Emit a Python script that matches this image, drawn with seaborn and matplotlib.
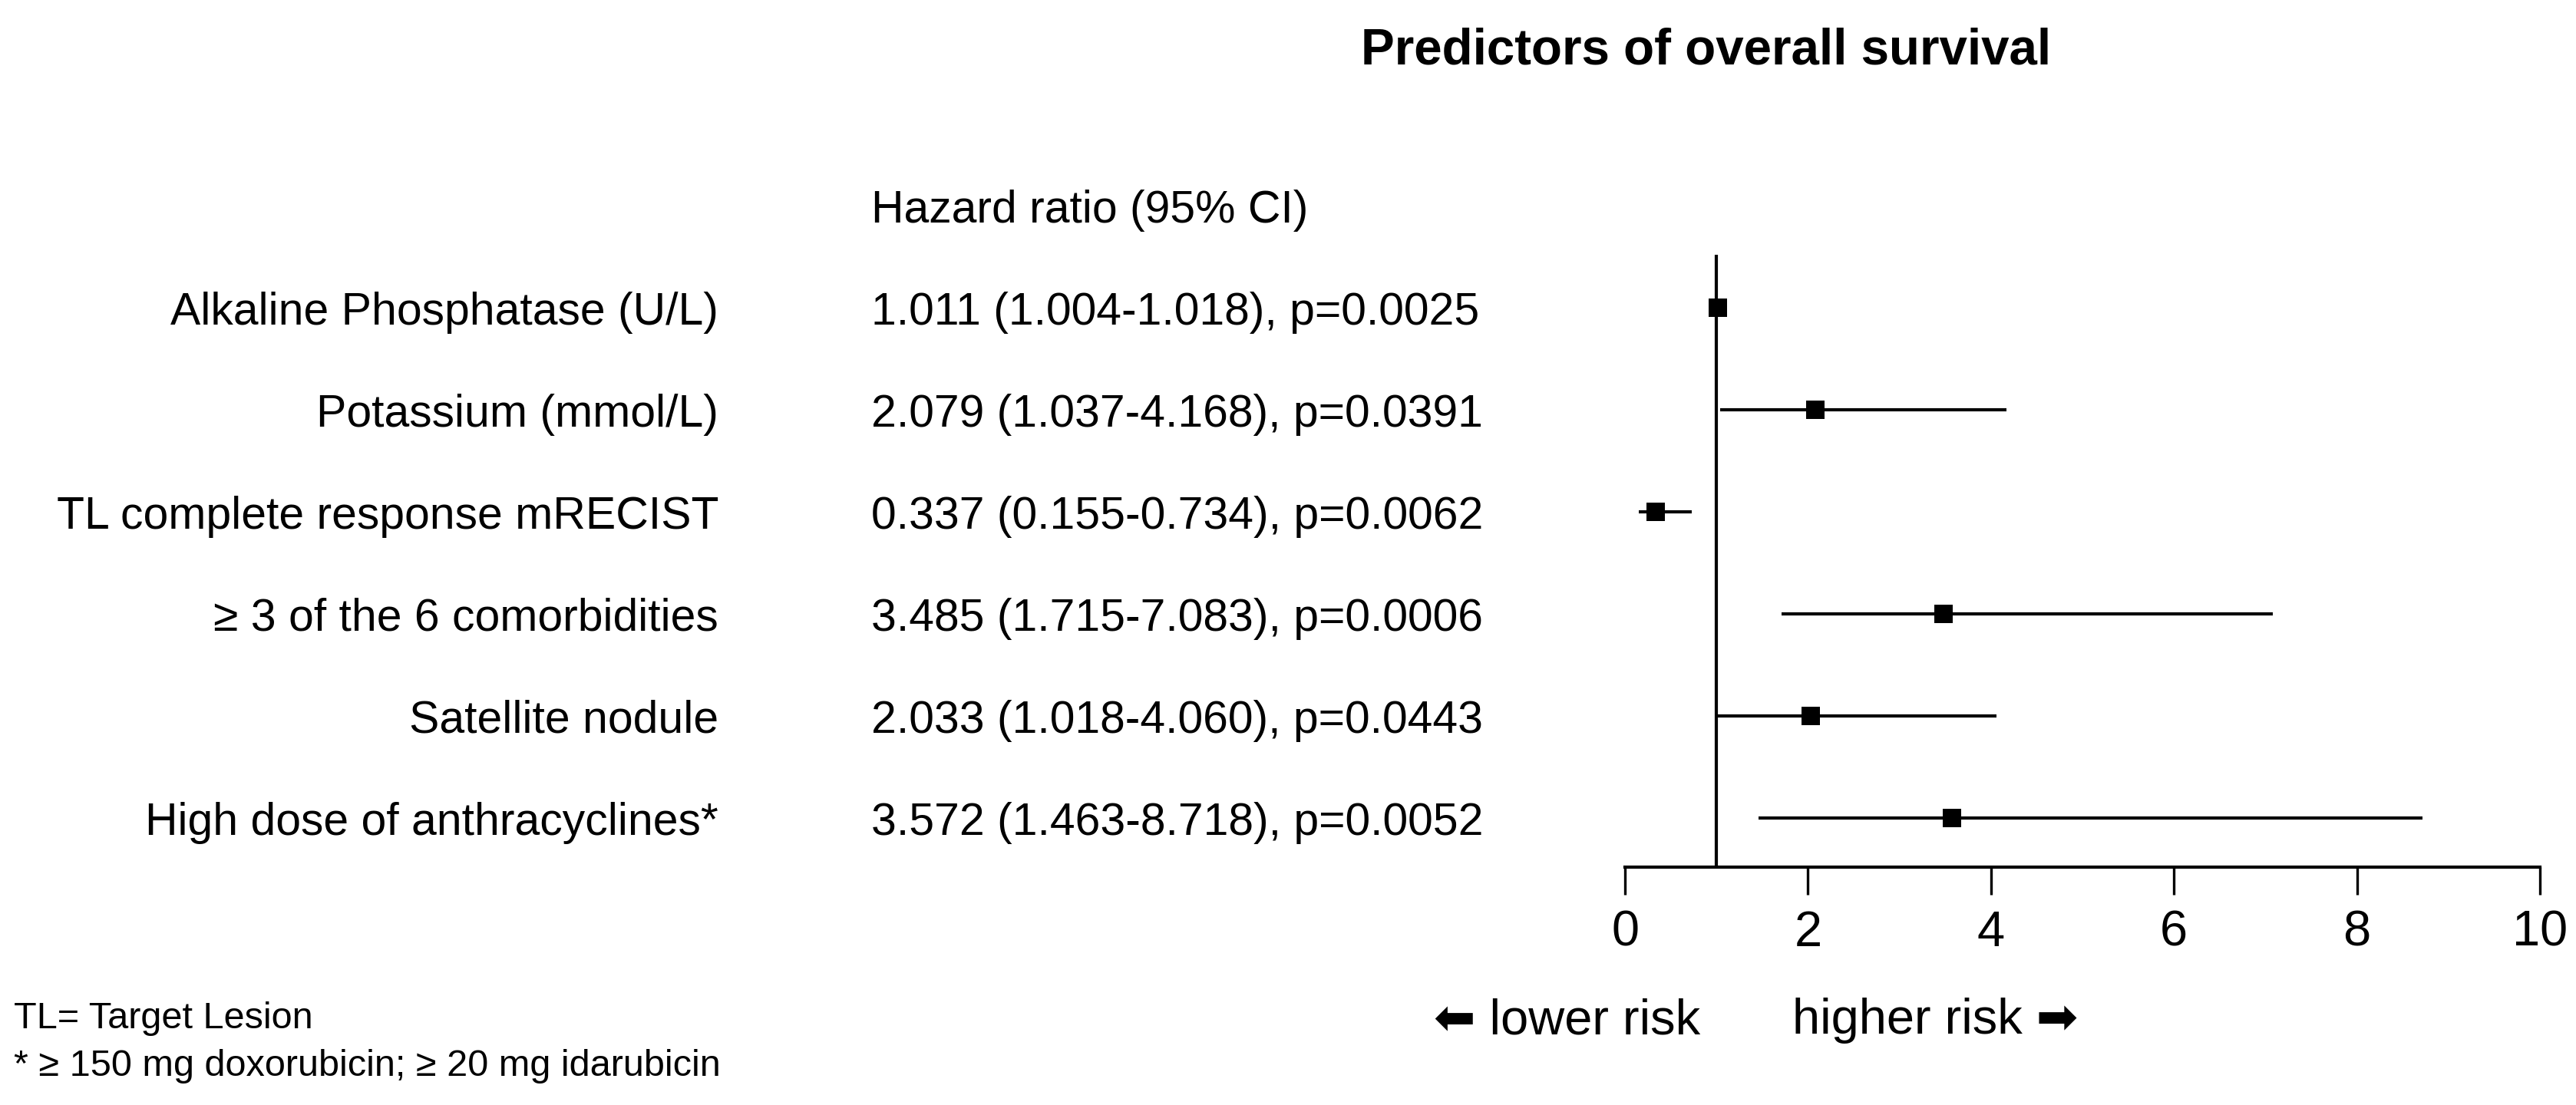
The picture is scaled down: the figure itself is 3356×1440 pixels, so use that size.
import matplotlib
matplotlib.use('Agg')
import matplotlib.pyplot as plt
import matplotlib.transforms as mtransforms
import seaborn as sns
import pandas as pd

# Data
predictors = ['Alkaline Phosphatase (U/L)', 'Potassium (mmol/L)', 'TL complete response mRECIST',
              '\u2265 3 of the 6 comorbidities', 'Satellite nodule', 'High dose of anthracyclines*']
hr = [1.011, 2.079, 0.337, 3.485, 2.033, 3.572]
ci_low = [1.004, 1.037, 0.155, 1.715, 1.018, 1.463]
ci_high = [1.018, 4.168, 0.734, 7.083, 4.060, 8.718]
p_values = ['0.0025', '0.0391', '0.0062', '0.0006', '0.0443', '0.0052']
x_ticks = [0, 2, 4, 6, 8, 10]

df = pd.DataFrame({'predictor': predictors, 'hr': hr, 'low': ci_low, 'high': ci_high, 'p': p_values})
df['row'] = range(len(df))

sns.set_style('white')
plt.rcParams['font.family'] = ['Liberation Sans', 'DejaVu Sans']
plt.rcParams['text.color'] = 'black'
plt.rcParams['xtick.color'] = 'black'
plt.rcParams['axes.labelcolor'] = 'black'

W, H = 3356, 1440
fig = plt.figure(figsize=(W / 200, H / 200), dpi=200)
ax = fig.add_axes([2117 / W, 1 - 1130 / H, (3309 - 2117) / W, (1130 - 332) / H])

# confidence intervals and point estimates
ax.hlines(df['row'], df['low'], df['high'], color='black', linewidth=1.5, zorder=2)
sns.scatterplot(data=df, x='hr', y='row', marker='s', s=80, color='black', edgecolor='black',
                linewidth=0, ax=ax, zorder=3)
ax.axvline(1, color='black', linewidth=1.5, zorder=1)

ax.set_xlim(0, 10)
ax.set_ylim(5.48, -0.52)
ax.set_xticks(x_ticks)
ax.set_xticklabels([str(t) for t in x_ticks], fontsize=23.4, color='black')
ax.set_yticks([])
ax.set_xlabel('')
ax.set_ylabel('')
for side in ['top', 'right', 'left']:
    ax.spines[side].set_visible(False)
ax.spines['bottom'].set_linewidth(1.5)
ax.spines['bottom'].set_color('black')
ax.tick_params(axis='x', direction='out', length=13, width=1.2, pad=7, color='black', bottom=True)

# left-hand text columns
trans = mtransforms.blended_transform_factory(fig.transFigure, ax.transData)
for _, r in df.iterrows():
    ax.text(936 / W, r['row'], r['predictor'], transform=trans, ha='right', va='center_baseline',
            fontsize=21.2, color='black', clip_on=False)
    ax.text(1135 / W, r['row'], f"{r['hr']:.3f} ({r['low']:.3f}-{r['high']:.3f}), p={r['p']}",
            transform=trans, ha='left', va='center_baseline', fontsize=21.2, color='black', clip_on=False)
ax.text(1135 / W, -1.0, 'Hazard ratio (95% CI)', transform=trans, ha='left', va='center_baseline',
        fontsize=21.2, color='black', clip_on=False)

fig.text(2223 / W, 1 - 66 / H, 'Predictors of overall survival', ha='center', va='center',
         fontsize=23.6, fontweight='bold', color='black')

fig.text(2215 / W, 1 - 1330 / H, '\u2b05 lower risk', ha='right', va='center', fontsize=23.4, color='black')
fig.text(2335 / W, 1 - 1330 / H, 'higher risk \u27a1', ha='left', va='center', fontsize=23.4, color='black')

fig.text(18 / W, 1 - 1327 / H, 'TL= Target Lesion', ha='left', va='center', fontsize=17.5, color='black')
fig.text(18 / W, 1 - 1390 / H, '* \u2265 150 mg doxorubicin; \u2265 20 mg idarubicin', ha='left',
         va='center', fontsize=17.5, color='black')

plt.savefig('out.png', dpi=200)
